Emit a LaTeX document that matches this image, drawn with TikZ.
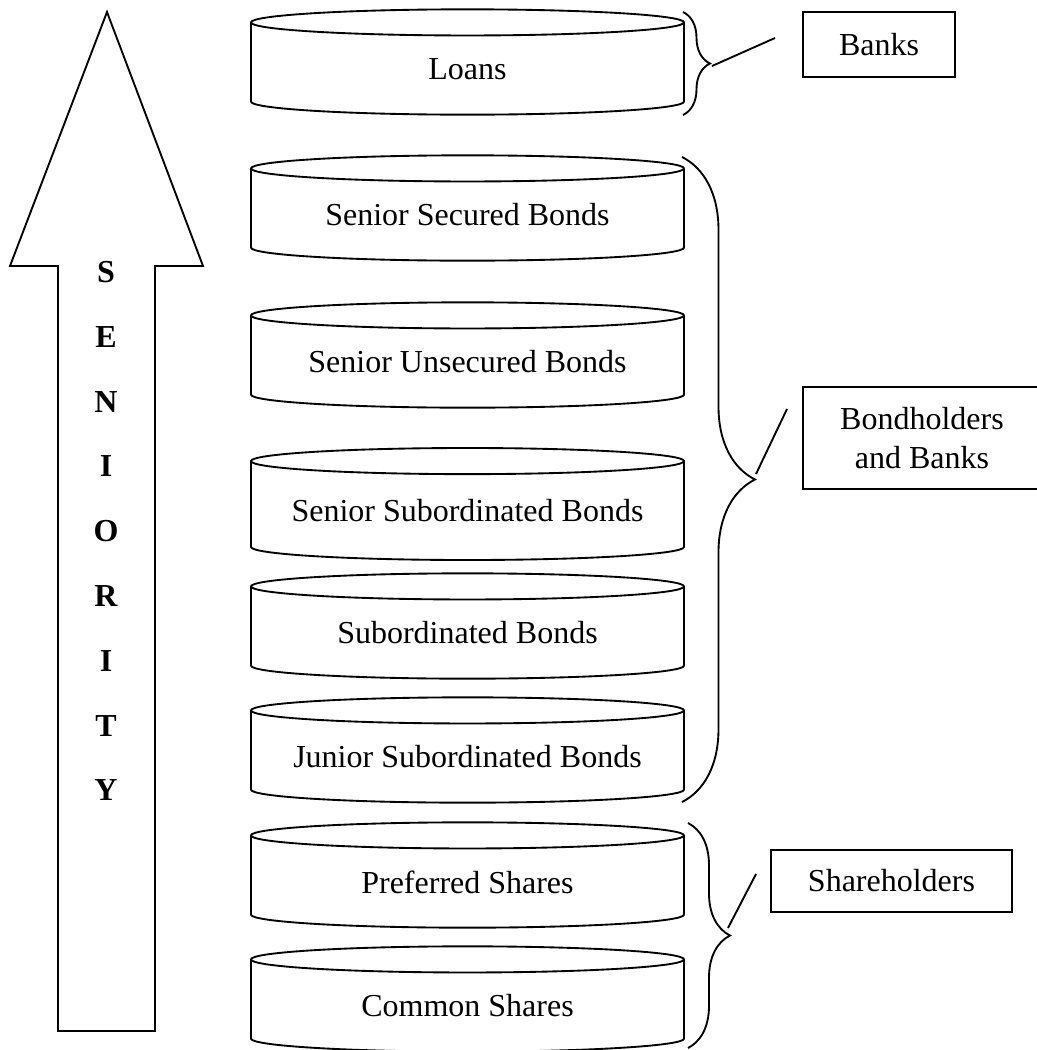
\documentclass[tikz,border=0pt]{standalone}
\usepackage{fontspec}
\setmainfont{Liberation Serif}
\usetikzlibrary{shapes,arrows,positioning,calc,decorations.pathreplacing}
\newcommand{\wide}[1]{\makebox[140pt]{#1}}

\begin{document}
\begin{tikzpicture}[x=0.375pt, y=-0.375pt, line width=0.7pt,
    layer/.style={draw, cylinder, shape border rotate=90, aspect=0.07, minimum width=162.4pt, minimum height=39.5pt, inner sep=0pt, font=\fontsize{12}{14.5}\selectfont},
    holder/.style={draw, align=center, inner sep=0pt, font=\fontsize{12}{14.5}\selectfont},
    curly/.style={decorate, decoration={brace, amplitude=#1*0.375pt}}]

        \useasboundingbox (0,0) rectangle (1036,1050);

        % Seniority arrow
        \coordinate (tip) at (107,12);
        \coordinate (headL) at (10,266);
        \coordinate (headR) at (203,266);
        \coordinate (shaftL) at (58,266);
        \coordinate (shaftR) at (155,266);
        \coordinate (baseL) at (58,1031);
        \coordinate (baseR) at (155,1031);
        \draw (tip) -- (headR) -- (shaftR) -- (baseR) -- (baseL) -- (shaftL) -- (headL) -- cycle;
        \node [font=\fontsize{12}{24.3}\selectfont\bfseries, align=center] (seniority) at (106,531) {S\\E\\N\\I\\O\\R\\I\\T\\Y};

        % Layers
        \node [layer] (loans) at (467.5,69) {\wide{Loans}};
        \node [layer] (ssb) at (467.5,215) {\wide{Senior Secured Bonds}};
        \node [layer] (sub) at (467.5,362) {\wide{Senior Unsecured Bonds}};
        \node [layer, minimum height=42pt] (ssub) at (467.5,511) {\wide{Senior Subordinated Bonds}};
        \node [layer] (subb) at (467.5,633) {\wide{Subordinated Bonds}};
        \node [layer] (jsb) at (467.5,757) {\wide{Junior Subordinated Bonds}};
        \node [layer] (pref) at (467.5,882) {\wide{Preferred Shares}};
        \node [layer] (common) at (467.5,1006) {\wide{Common Shares}};

        % Holders
        \node [holder, minimum width=57pt, minimum height=24.4pt] (banks) at (879,44.5) {Banks};
        \node [holder, minimum width=89.3pt, minimum height=38.3pt] (bondholders) at (922,438) {Bondholders\\and Banks};
        \node [holder, minimum width=90.4pt, minimum height=23.3pt] (shareholders) at (891.5,881) {Shareholders};

        % Braces
        \draw [curly=27] (683,12) -- (683,115);
        \draw [curly=73] (682,157) -- (682,802);
        \draw [curly=42] (688,823) -- (688,1048);

        % Links
        \coordinate (banksTip) at (712,66);
        \coordinate (banksEnd) at (775,38);
        \coordinate (bondTip) at (756,474);
        \coordinate (bondEnd) at (787,409);
        \coordinate (shareTip) at (728,928);
        \coordinate (shareEnd) at (756,874);
        \draw (banksTip) -- (banksEnd);
        \draw (bondTip) -- (bondEnd);
        \draw (shareTip) -- (shareEnd);

    \end{tikzpicture}
\end{document}
